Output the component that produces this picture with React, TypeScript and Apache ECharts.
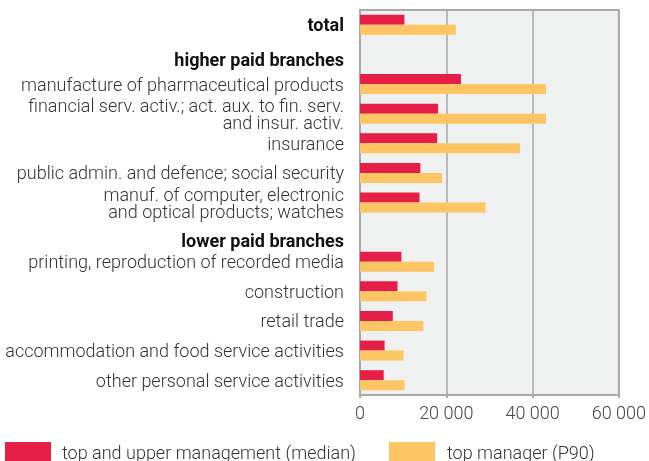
import React, { useEffect, useRef } from "react";
import * as echarts from "echarts";

const categories = [
  "total",
  "higher paid branches",
  "manufacture of pharmaceutical products",
  "financial serv. activ.; act. aux. to fin. serv.\nand insur. activ.",
  "insurance",
  "public admin. and defence; social security",
  "manuf. of computer, electronic\nand optical products; watches",
  "lower paid branches",
  "printing, reproduction of recorded media",
  "construction",
  "retail trade",
  "accommodation and food service activities",
  "other personal service activities",
];

const boldLabels = ["total", "higher paid branches", "lower paid branches"];

const medianValues = [10300, null, 23400, 18100, 17900, 14000, 13800, null, 9600, 8700, 7600, 5700, 5500];
const p90Values = [22200, null, 43100, 43100, 37100, 19000, 29100, null, 17200, 15400, 14700, 10100, 10300];

const xTicks = [0, 20000, 40000, 60000];

const seriesNames = ["top and upper management (median)", "top manager (P90)"];

const FONT = "Roboto";
const FS = 18;

export default function App() {
  const ref = useRef<HTMLDivElement>(null);
  useEffect(() => {
    if (!ref.current) return;
    const chart = echarts.init(ref.current, null, { renderer: "svg" });
    chart.setOption({
      animation: false,
      textStyle: { fontFamily: FONT },
      grid: {
        left: 360,
        right: 27,
        top: 10,
        bottom: 66,
        show: true,
        backgroundColor: "#eff0f0",
        borderColor: "#a9a9a9",
        borderWidth: 2,
      },
      legend: [
        {
          data: [seriesNames[0]],
          left: 5,
          top: 442,
          padding: 0,
          itemWidth: 46,
          itemHeight: 20,
          icon: "rect",
          textStyle: { fontSize: FS, color: "#333", fontWeight: 300, fontFamily: FONT, padding: [0, 0, 0, 6] },
        },
        {
          data: [seriesNames[1]],
          left: 389,
          top: 442,
          padding: 0,
          itemWidth: 46,
          itemHeight: 20,
          icon: "rect",
          textStyle: { fontSize: FS, color: "#333", fontWeight: 300, fontFamily: FONT, padding: [0, 0, 0, 7] },
        },
      ],
      xAxis: {
        type: "value",
        min: xTicks[0],
        max: xTicks[xTicks.length - 1],
        interval: 20000,
        axisLine: { show: true, lineStyle: { color: "#a9a9a9", width: 2 } },
        axisTick: { show: true, length: 3, lineStyle: { color: "#a9a9a9", width: 2 } },
        splitLine: { show: true, lineStyle: { color: "#a9a9a9", width: 1.5 } },
        axisLabel: {
          fontSize: FS,
          color: "#444",
          fontWeight: 300,
          fontFamily: FONT,
          margin: 8,
          formatter: (v: number) => String(v).replace(/\B(?=(\d{3})+(?!\d))/g, " "),
        },
      },
      yAxis: {
        type: "category",
        inverse: true,
        data: categories,
        axisLine: { show: false },
        axisTick: { show: false },
        splitLine: { show: false },
        axisLabel: {
          margin: 16,
          interval: 0,
          formatter: (v: string) => {
            if (v === "higher paid branches") return "{h1|" + v + "}";
            if (v === "lower paid branches") return "{h2|" + v + "}";
            if (boldLabels.includes(v)) return "{b|" + v + "}";
            return v;
          },
          fontSize: FS,
          lineHeight: 17,
          color: "#333",
          fontWeight: 300,
          fontFamily: FONT,
          rich: {
            b: { fontSize: FS, fontWeight: "bold", color: "#111", fontFamily: FONT, lineHeight: 17 },
            h1: { fontSize: FS, fontWeight: "bold", color: "#111", fontFamily: FONT, lineHeight: 17, padding: [11, 0, 0, 0] },
            h2: { fontSize: FS, fontWeight: "bold", color: "#111", fontFamily: FONT, lineHeight: 17, padding: [17, 0, 0, 0] },
          },
        },
      },
      series: [
        {
          name: seriesNames[0],
          type: "bar",
          data: medianValues,
          barWidth: 10,
          barGap: "0%",
          itemStyle: { color: "#e61f48" },
        },
        {
          name: seriesNames[1],
          type: "bar",
          data: p90Values,
          barWidth: 10,
          barGap: "0%",
          itemStyle: { color: "#fdc564" },
        },
      ],
    });
    return () => chart.dispose();
  }, []);
  return <div ref={ref} style={{ width: 649, height: 461, position: "fixed", left: 0, top: 0 }} />;
}
